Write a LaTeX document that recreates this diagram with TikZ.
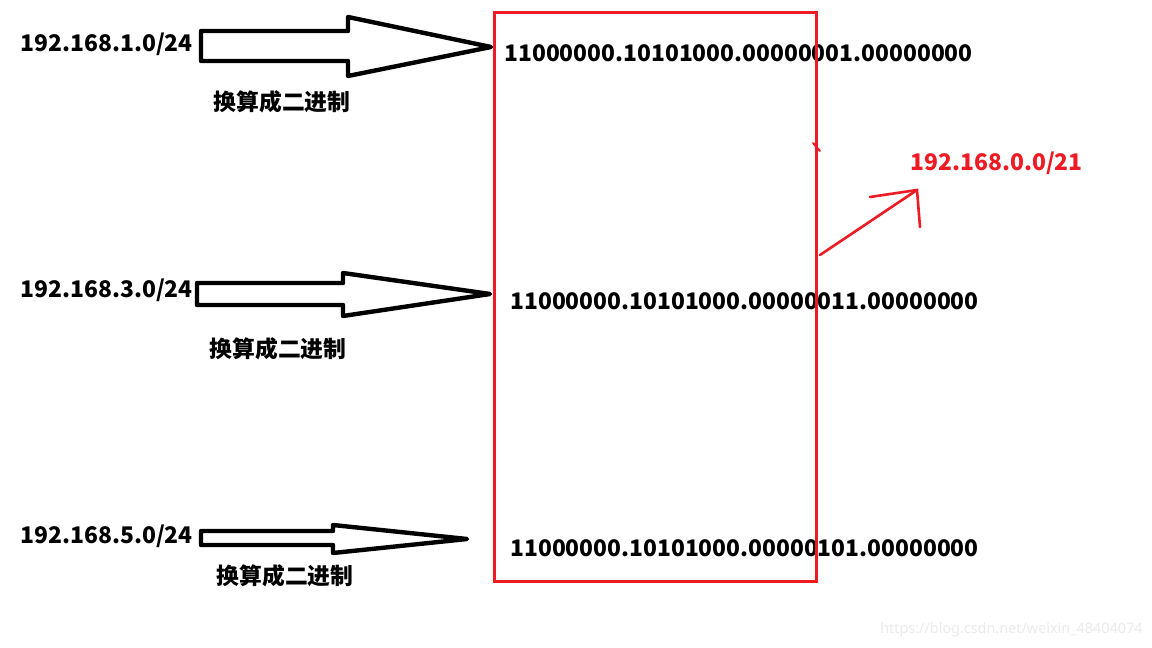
\documentclass[tikz,border=0pt]{standalone}
\usepackage{fontspec}
\setmainfont{Noto Sans}
\newfontfamily\cjk{Noto Sans CJK SC}
\usepackage{xcolor}
\usepackage{tikz}
\definecolor{ink}{HTML}{000000}
\definecolor{redpen}{HTML}{ED1C24}
\definecolor{faint}{HTML}{EBEBEB}

\begin{document}
\begin{tikzpicture}[
  x=0.5pt, y=-0.5pt,
  ip/.style={font=\cjk\bfseries\fontsize{11.45}{14}\selectfont, text=ink, anchor=west, inner sep=0pt},
  bin/.style={font=\cjk\bfseries\fontsize{11.4}{14}\selectfont, text=ink, anchor=west, inner sep=0pt},
  note/.style={font=\cjk\bfseries\fontsize{11.4}{13}\selectfont, text=ink, inner sep=0pt},
  fat/.style={draw=ink, line width=2.2pt, line join=round, fill=white},
  hand/.style={draw=redpen, line width=1.3pt, line cap=round}
]
  \useasboundingbox (0,0) rectangle (1152,648);
  \fill[white] (0,0) rectangle (1152,648);
  % the three networks
  \node[ip] (net1) at (20,44) {192.168.1.0/24};
  \node[ip] (net3) at (20,290) {192.168.3.0/24};
  \node[ip] (net5) at (20,536) {192.168.5.0/24};
  \node[note] (conv1) at (282,102) {换算成二进制};
  \node[note] (conv3) at (278,349) {换算成二进制};
  \node[note] (conv5) at (285,576) {换算成二进制};
  % hollow arrows
  \draw[fat] (201,31) -- (348,31) -- (348,17) -- (491,47) -- (348,76) -- (348,61) -- (201,61) -- cycle;
  \draw[fat] (197,283) -- (343,283) -- (343,273) -- (490,294) -- (343,316) -- (343,305) -- (197,305) -- cycle;
  \draw[fat] (201,531) -- (333,531) -- (333,525) -- (467,539) -- (333,553) -- (333,545) -- (201,545) -- cycle;
  % binary forms
  \node[bin] (bin1) at (504,53) {11000000.10101000.00000001.00000000};
  \node[bin] (bin3) at (510,301) {11000000.10101000.00000011.00000000};
  \node[bin] (bin5) at (510,548) {11000000.10101000.00000101.00000000};
  \draw[redpen, line width=1.5pt] (494,12) rectangle (816,581);
  % summary
  \node[ip, text=redpen] (sum) at (910,163) {192.168.0.0/21};
  \coordinate (from) at (820,255);
  \coordinate (tip) at (917,190);
  \draw[hand] (from) -- (tip);
  \draw[hand] (870,197) -- (tip) -- (920,227);
  \draw[hand, line width=1pt] (813,143) -- (820,151);
  \node[font=\fontsize{7.2}{9}\selectfont, text=faint, anchor=east, inner sep=0pt] (src) at (1143,630) {https://blog.csdn.net/weixin\_48404074};
\end{tikzpicture}
\end{document}
